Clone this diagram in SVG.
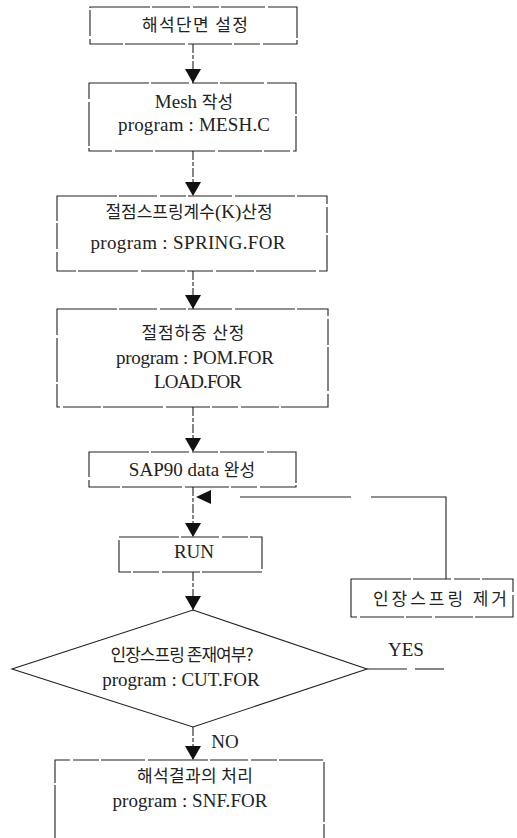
<svg xmlns="http://www.w3.org/2000/svg" width="517" height="838" viewBox="0 0 517 838">
  <defs>
    <style>
      .box { fill: none; stroke: #222; stroke-width: 1.1; stroke-dasharray: 60 2 38 3 26 2 44 3; }
      .link { fill: none; stroke: #222; stroke-width: 1.1; stroke-dasharray: 9 2 4 2; }
      .solid { fill: none; stroke: #222; stroke-width: 1.1; }
      .head { fill: #111; }
      .kr { font-family: "Noto Sans CJK KR", "Noto Sans", sans-serif; font-size: 17px; fill: #222; }
      .la { font-family: "Liberation Serif", "DejaVu Serif", "Times New Roman", serif; font-size: 19px; fill: #222; }
      text { text-anchor: middle; }
    </style>
    <marker id="arrow" viewBox="0 0 14 16" refX="14" refY="8" markerWidth="14" markerHeight="16" markerUnits="userSpaceOnUse" orient="auto">
      <path d="M0,0 L14,8 L0,16 Z" class="head"/>
    </marker>
  </defs>

  <!-- flow connectors -->
  <g id="connectors">
    <line class="link" x1="193" y1="44" x2="193" y2="83" marker-end="url(#arrow)"/>
    <line class="link" x1="193" y1="151" x2="193" y2="196" marker-end="url(#arrow)"/>
    <line class="link" x1="193" y1="271" x2="193" y2="309" marker-end="url(#arrow)"/>
    <line class="link" x1="193" y1="407" x2="193" y2="452" marker-end="url(#arrow)"/>
    <line class="link" x1="193" y1="487" x2="193" y2="537" marker-end="url(#arrow)"/>
    <line class="link" x1="193" y1="572" x2="193" y2="610" marker-end="url(#arrow)"/>
    <line class="link" x1="193" y1="727" x2="193" y2="760" marker-end="url(#arrow)"/>
    <!-- loop back from spring removal -->
    <polyline class="solid" points="446,579 446,497 240,497" stroke-dasharray="157 20 120"/>
    <path class="head" d="M196,497 L211,490 L211,504 Z"/>
    <!-- YES branch -->
    <line class="solid" x1="367" y1="669" x2="407" y2="669"/>
    <line class="solid" x1="415" y1="669" x2="444" y2="669"/>
    <text class="la" x="406" y="656" font-size="16">YES</text>
    <text class="la" x="225" y="748" font-size="17">NO</text>
  </g>

  <g id="node-section">
    <rect class="box" x="90" y="7" width="207" height="37"/>
    <text class="kr" x="195" y="31" textLength="106">해석단면 설정</text>
  </g>

  <g id="node-mesh">
    <rect class="box" x="89" y="83" width="207" height="68"/>
    <text class="la" x="194" y="108">Mesh <tspan class="kr">작성</tspan></text>
    <text class="la" x="194" y="131" textLength="152">program : MESH.C</text>
  </g>

  <g id="node-spring">
    <rect class="box" x="57" y="196" width="270" height="75"/>
    <text class="kr" x="189" y="218">절점스프링계수<tspan class="la" font-size="17">(K)</tspan>산정</text>
    <text class="la" x="188" y="249" textLength="195">program : SPRING.FOR</text>
  </g>

  <g id="node-load">
    <rect class="box" x="57" y="309" width="271" height="98"/>
    <text class="kr" x="193" y="339" textLength="103">절점하중 산정</text>
    <text class="la" x="195" y="364" textLength="158">program : POM.FOR</text>
    <text class="la" x="198" y="388" textLength="88">LOAD.FOR</text>
  </g>

  <g id="node-sap">
    <rect class="box" x="89" y="452" width="207" height="35"/>
    <text class="la" x="192" y="476">SAP90 data <tspan class="kr">완성</tspan></text>
  </g>

  <g id="node-run">
    <rect class="box" x="119" y="537" width="143" height="35"/>
    <text class="la" x="194" y="558" font-size="17">RUN</text>
  </g>

  <g id="node-remove">
    <rect class="box" x="351" y="579" width="162" height="38"/>
    <text class="kr" x="440" y="605" font-size="18" textLength="134">인장스프링 제거</text>
  </g>

  <g id="node-check">
    <polygon class="solid" points="193,610 367,669 193,727 12,669"/>
    <text class="kr" x="182" y="661" font-size="15" textLength="143">인장스프링 존재여부?</text>
    <text class="la" x="181" y="686" font-size="16">program : CUT.FOR</text>
  </g>

  <g id="node-result">
    <path class="box" d="M55,845 L55,760 L324,760 L324,845"/>
    <text class="kr" x="195" y="782" font-size="16" textLength="116">해석결과의 처리</text>
    <text class="la" x="190" y="807" textLength="155">program : SNF.FOR</text>
  </g>
</svg>
